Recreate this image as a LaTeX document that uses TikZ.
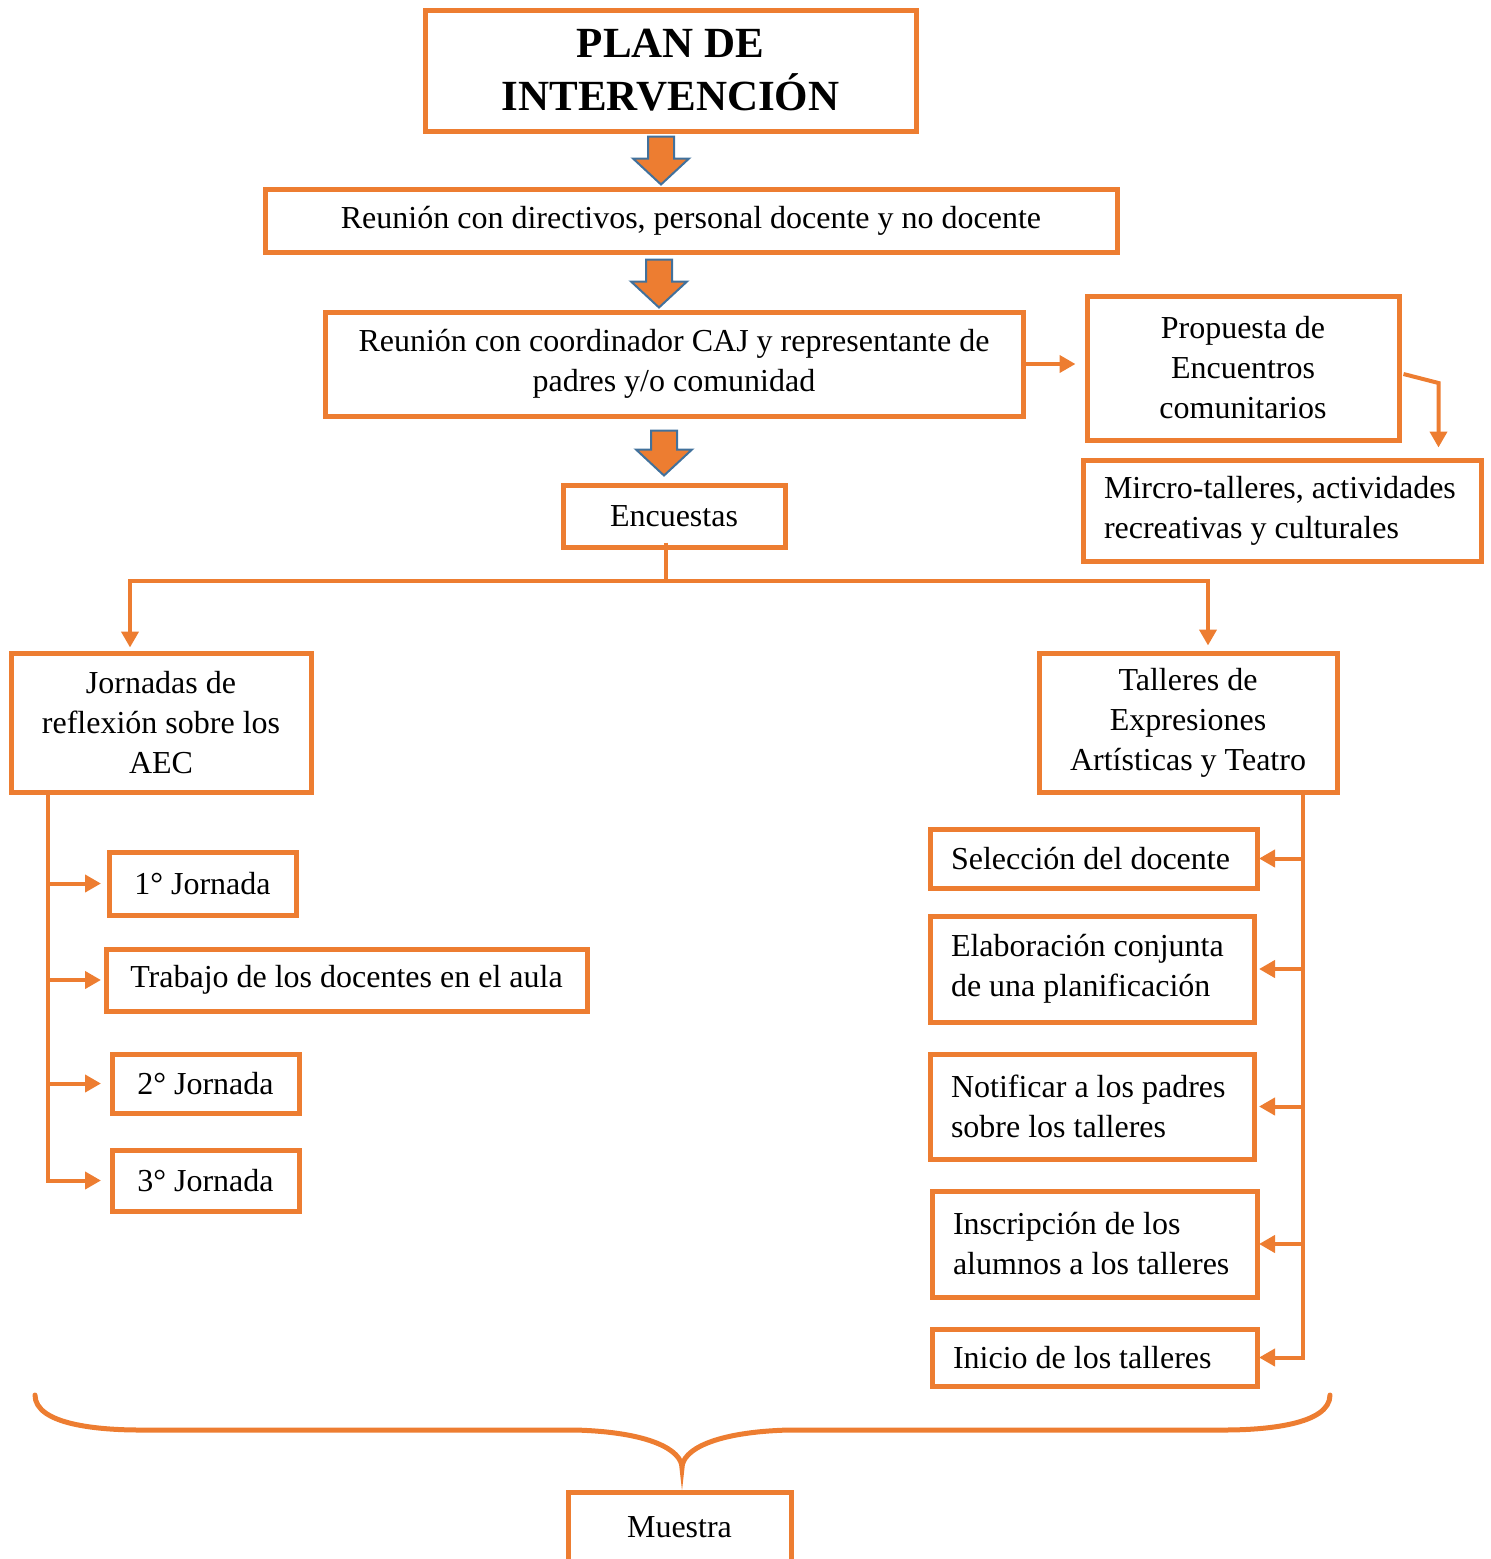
\documentclass[tikz,border=0pt]{standalone}
\usepackage{fontspec}
\setmainfont{Liberation Serif}
\usetikzlibrary{arrows.meta,calc}
\definecolor{naranja}{HTML}{ED7D31}
\definecolor{azul}{HTML}{41719C}
\tikzset{
  caja/.style={draw=naranja, line width=5pt, inner sep=0pt, align=center, font=\fontsize{32}{40}\selectfont},
  cajaizq/.style={caja, align=flush left, inner xsep=21pt},
  flecha/.style={draw=naranja, line width=4pt, -{Triangle[length=16pt,width=17pt]}},
  linea/.style={draw=naranja, line width=4pt},
  bloque/.style={fill=naranja, draw=azul, line width=2pt},
}
% #1 desde, #2 hasta, #3 eje, #4 y #5 huecos
\newcommand{\flechagorda}[5]{%
  \draw[bloque] let \p1=(#1.south -| #3), \p2=(#2.north -| #3) in
    (\x1-13pt,\y1-#4) -- (\x1+13pt,\y1-#4) -- (\x1+13pt,\y2+#5+26pt) -- (\x1+28pt,\y2+#5+26pt)
    -- (\x1,\y2+#5) -- (\x1-28pt,\y2+#5+26pt) -- (\x1-13pt,\y2+#5+26pt) -- cycle;}
\begin{document}
\begin{tikzpicture}[x=1pt,y=-1pt]
\useasboundingbox (0,0) rectangle (1491,1559);
\node[caja, minimum width=491pt, minimum height=121pt, font=\bfseries\fontsize{43}{53}\selectfont] (titulo) at (670.5,70.5) {PLAN DE\\INTERVENCIÓN};
\node[caja, minimum width=852pt, minimum height=63pt] (reu1) at (691,220.5) {Reunión con directivos, personal docente y no docente};
\node[caja, minimum width=698pt, minimum height=104pt] (reu2) at (674,364) {Reunión con coordinador CAJ y representante de\\padres y/o comunidad};
\node[caja, minimum width=312pt, minimum height=144pt] (prop) at (1243,368) {Propuesta de\\Encuentros\\comunitarios};
\node[cajaizq, text width=356pt, minimum height=101pt] (micro) at (1282,510.5) {Mircro-talleres, actividades\\recreativas y culturales};
\node[caja, minimum width=222pt, minimum height=62pt] (encu) at (674,516) {Encuestas};
\node[caja, minimum width=300pt, minimum height=139pt] (jorn) at (161,722.5) {Jornadas de\\reflexión sobre los\\AEC};
\node[caja, minimum width=298pt, minimum height=139pt] (tall) at (1188,722.5) {Talleres de\\Expresiones\\Artísticas y Teatro};
\node[caja, minimum width=187pt, minimum height=63pt] (j1) at (202.5,883.5) {1° Jornada};
\node[caja, minimum width=481pt, minimum height=62pt] (trab) at (346.5,980) {Trabajo de los docentes en el aula};
\node[caja, minimum width=187pt, minimum height=59pt] (j2) at (205.5,1083.5) {2° Jornada};
\node[caja, minimum width=187pt, minimum height=61pt] (j3) at (205.5,1180.5) {3° Jornada};
\node[cajaizq, text width=285pt, minimum height=59pt] (sel) at (1093.5,858.5) {Selección del docente};
\node[cajaizq, text width=282pt, minimum height=106pt] (elab) at (1092,969) {Elaboración conjunta\\de una planificación};
\node[cajaizq, text width=282pt, minimum height=105pt] (noti) at (1092,1106.5) {Notificar a los padres\\sobre los talleres};
\node[cajaizq, text width=283pt, minimum height=106pt] (insc) at (1094.5,1244) {Inscripción de los\\alumnos a los talleres};
\node[cajaizq, text width=283pt, minimum height=57pt] (inic) at (1094.5,1357.5) {Inicio de los talleres};
\node[caja, minimum width=223pt, minimum height=70pt] (mues) at (679.5,1527) {Muestra};

\coordinate (a1) at (661,0);
\coordinate (a2) at (659,0);
\coordinate (a3) at (664,0);
\flechagorda{titulo}{reu1}{a1}{3pt}{2pt}
\flechagorda{reu1}{reu2}{a2}{5pt}{2pt}
\flechagorda{reu2}{encu}{a3}{12pt}{7pt}

\draw[flecha, shorten >=9pt] (reu2.east) -- (reu2.east -| prop.west);
\draw[flecha, shorten >=10pt] ($(prop.east)+(2,6)$) -- ++(35,9) coordinate (q) -- (q |- micro.north);

\coordinate (bif) at (666,581);
\coordinate (izq) at (130,0);
\coordinate (der) at (1208,0);
\draw[linea] ($(encu.south -| bif)+(0,-7)$) -- (bif);
\draw[flecha, shorten >=3pt] (bif) -| (jorn.north -| izq);
\draw[flecha, shorten >=5pt] (bif) -| (tall.north -| der);

\coordinate (vl) at (48,0);
\coordinate (pl) at (101,0);
\draw[linea] (jorn.south -| vl) -- ($(j3.west -| vl)+(0,2)$);
\foreach \n in {j1,trab,j2,j3}
  \draw[flecha] (\n.west -| vl) -- (\n.west -| pl);

\coordinate (vr) at (1303,0);
\coordinate (pr) at (1259,0);
\draw[linea] (tall.south -| vr) -- ($(inic.east -| vr)+(0,2)$);
\foreach \n in {sel,elab,noti,insc,inic}
  \draw[flecha] (\n.east -| vr) -- (\n.east -| pr);

\draw[linea, line width=5pt, line cap=round] (35,1395) .. controls (35,1425) and (100,1430) .. (140,1430) -- (575,1430)
  .. controls (650,1432) and (682,1450) .. (682,1468) .. controls (682,1450) and (714,1432) .. (789,1430)
  -- (1224,1430) .. controls (1264,1430) and (1330,1425) .. (1330,1395);
\end{tikzpicture}
\end{document}
